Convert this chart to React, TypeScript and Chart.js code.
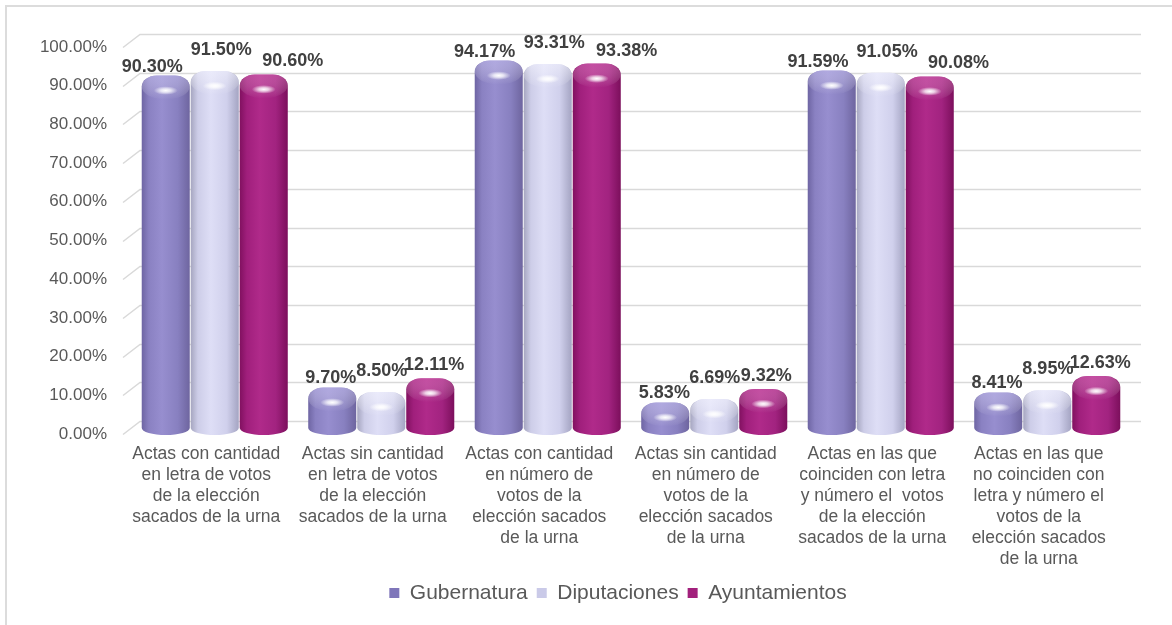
import { useEffect, useRef } from "react";
import { Chart, registerables } from "chart.js";
Chart.register(...registerables);

const FONT = '"Liberation Sans", Arial, Helvetica, sans-serif';

const categories: string[][] = [
  ["Actas con cantidad", "en letra de votos", "de la elección", "sacados de la urna"],
  ["Actas sin cantidad", "en letra de votos", "de la elección", "sacados de la urna"],
  ["Actas con cantidad", "en número de", "votos de la", "elección sacados", "de la urna"],
  ["Actas sin cantidad", "en número de", "votos de la", "elección sacados", "de la urna"],
  ["Actas en las que", "coinciden con letra", "y número el  votos", "de la elección", "sacados de la urna"],
  ["Actas en las que", "no coinciden con", "letra y número el", "votos de la", "elección sacados", "de la urna"],
];

const seriesNames = ["Gubernatura", "Diputaciones", "Ayuntamientos"];
const gubernatura = [90.3, 9.7, 94.17, 5.83, 91.59, 8.41];
const diputaciones = [91.5, 8.5, 93.31, 6.69, 91.05, 8.95];
const ayuntamientos = [90.6, 12.11, 93.38, 9.32, 90.08, 12.63];

const legendColors = ["#7f76ba", "#cacae8", "#a2207c"];
const bodyStops: string[][] = [
  ["#6e65a3", "#8a81c2", "#978ecf", "#8880c0", "#6e659f"],
  ["#a6a6c0", "#cdcde8", "#dedef6", "#d0d0ec", "#a4a4c2"],
  ["#811160", "#a01f7c", "#b02a8a", "#a22380", "#7c0f5c"],
];
const capTint = ["rgba(200,194,240,0.5)", "rgba(245,245,255,0.55)", "rgba(220,120,190,0.45)"];

const DEPTH_X = 8.5;
const LABEL_DY = [18, 30, 22];
const LABEL_DX = [-15, 7, 32];
const LEGEND_SHIFT = 37;

function cylinderPath(ctx: CanvasRenderingContext2D, L: number, R: number, ty: number, by: number, rh: number, rv: number, rb: number) {
  ctx.beginPath();
  ctx.moveTo(L, by - rb);
  ctx.lineTo(L, ty + rv);
  ctx.bezierCurveTo(L, ty + rv * 0.45, L + rh * 0.45, ty, L + rh, ty);
  ctx.lineTo(R - rh, ty);
  ctx.bezierCurveTo(R - rh * 0.45, ty, R, ty + rv * 0.45, R, ty + rv);
  ctx.lineTo(R, by - rb);
  ctx.ellipse((L + R) / 2, by - rb, (R - L) / 2, rb, 0, 0, Math.PI, false);
  ctx.closePath();
}

function drawCylinder(ctx: CanvasRenderingContext2D, i: number, cx: number, w: number, ty: number, by: number) {
  const L = cx - w / 2;
  const R = cx + w / 2;
  const rh = 15, rv = 11, rb = 7;
  ctx.save();
  cylinderPath(ctx, L, R, ty, by, rh, rv, rb);
  const g = ctx.createLinearGradient(L, 0, R, 0);
  const st = bodyStops[i];
  g.addColorStop(0, st[0]);
  g.addColorStop(0.15, st[1]);
  g.addColorStop(0.42, st[2]);
  g.addColorStop(0.75, st[3]);
  g.addColorStop(1, st[4]);
  ctx.fillStyle = g;
  ctx.fill();
  ctx.clip();
  const cg = ctx.createLinearGradient(0, ty, 0, ty + 24);
  cg.addColorStop(0, capTint[i]);
  cg.addColorStop(1, "rgba(255,255,255,0)");
  ctx.fillStyle = cg;
  ctx.beginPath();
  ctx.ellipse(cx, ty + 11, w / 2, 13, 0, 0, Math.PI * 2);
  ctx.fill();
  ctx.save();
  ctx.translate(cx, ty + 15);
  ctx.scale(1, 0.36);
  const hg = ctx.createRadialGradient(0, 0, 0, 0, 0, 12);
  hg.addColorStop(0, "rgba(255,255,255,1)");
  hg.addColorStop(0.4, "rgba(255,255,255,0.75)");
  hg.addColorStop(1, "rgba(255,255,255,0)");
  ctx.fillStyle = hg;
  ctx.beginPath();
  ctx.arc(0, 0, 12, 0, Math.PI * 2);
  ctx.fill();
  ctx.restore();
  ctx.restore();
}

const cylPlugin = {
  id: "cyl3d",
  afterLayout(chart: any) {
    if (chart.legend) {
      chart.legend.left += LEGEND_SHIFT;
      chart.legend.right += LEGEND_SHIFT;
    }
  },
  beforeDatasetsDraw(chart: any) {
    const { ctx, chartArea, scales } = chart;
    const ys = scales.y;
    ctx.save();
    ctx.strokeStyle = "#d9d9d9";
    ctx.lineWidth = 1.5;
    ys.ticks.forEach((t: any) => {
      const py = Math.round(ys.getPixelForValue(t.value)) + 0.5;
      ctx.beginPath();
      ctx.moveTo(chartArea.left, py);
      ctx.lineTo(chartArea.left + 17, py - 13);
      ctx.lineTo(chartArea.right + 19, py - 13);
      ctx.stroke();
    });
    chart.data.datasets.forEach((ds: any, i: number) => {
      const meta = chart.getDatasetMeta(i);
      meta.data.forEach((el: any) => {
        drawCylinder(ctx, i, el.x + DEPTH_X, el.width, el.y - 9, el.base + 1);
      });
    });
    ctx.fillStyle = "#404040";
    ctx.font = `bold 18px ${FONT}`;
    ctx.textAlign = "center";
    ctx.textBaseline = "middle";
    chart.data.datasets.forEach((ds: any, i: number) => {
      const meta = chart.getDatasetMeta(i);
      meta.data.forEach((el: any, j: number) => {
        const v = ds.data[j] as number;
        ctx.fillText(v.toFixed(2) + "%", el.x + DEPTH_X + (LABEL_DX[i] * v) / 100, el.y - LABEL_DY[i]);
      });
    });
    ctx.restore();
    return false;
  },
};

export default function App() {
  const ref = useRef<HTMLCanvasElement | null>(null);
  useEffect(() => {
    if (!ref.current) return;
    const series = [gubernatura, diputaciones, ayuntamientos];
    const chart = new Chart(ref.current, {
      type: "bar",
      data: {
        labels: categories,
        datasets: series.map((d, i) => ({
          label: seriesNames[i],
          data: d,
          backgroundColor: legendColors[i],
          categoryPercentage: 0.883,
          barPercentage: 0.98,
        })),
      },
      options: {
        animation: false,
        responsive: false,
        layout: { padding: { left: 40, right: 50, top: 47, bottom: 11.5 } },
        plugins: {
          tooltip: { enabled: false },
          legend: {
            position: "bottom",
            labels: {
              boxWidth: 10,
              boxHeight: 10,
              padding: 9,
              color: "#595959",
              font: { family: FONT, size: 21 },
              generateLabels: () =>
                seriesNames.map((n, i) => ({
                  text: n,
                  fillStyle: legendColors[i],
                  strokeStyle: legendColors[i],
                  lineWidth: 0,
                  hidden: false,
                  datasetIndex: i,
                  fontColor: "#595959",
                })),
            },
          },
        },
        scales: {
          x: {
            grid: { display: false, drawTicks: false },
            border: { display: false },
            ticks: {
              color: "#595959",
              font: { family: FONT, size: 17.5, lineHeight: 1.2 },
              padding: 10,
              maxRotation: 0,
              autoSkip: false,
            },
            afterFit: (s: any) => {
              s.height = 139.5;
            },
          },
          y: {
            min: 0,
            max: 100,
            grid: { display: false, drawTicks: false },
            border: { display: false },
            ticks: {
              stepSize: 10,
              color: "#595959",
              font: { family: FONT, size: 17 },
              padding: 16,
              callback: (v: any) => Number(v).toFixed(2) + "%",
            },
            afterFit: (s: any) => {
              s.width = 83;
            },
          },
        },
      },
      plugins: [cylPlugin],
    } as any);
    return () => chart.destroy();
  }, []);
  return (
    <div style={{ position: "fixed", left: 0, top: 0, width: 1172, height: 625, overflow: "hidden", background: "#fff" }}>
      <div style={{ position: "absolute", left: 5, top: 5, width: 1250, height: 700, border: "2px solid #dcdcdc" }} />
      <canvas ref={ref} width={1172} height={625} style={{ position: "absolute", left: 0, top: 0 }} />
    </div>
  );
}
